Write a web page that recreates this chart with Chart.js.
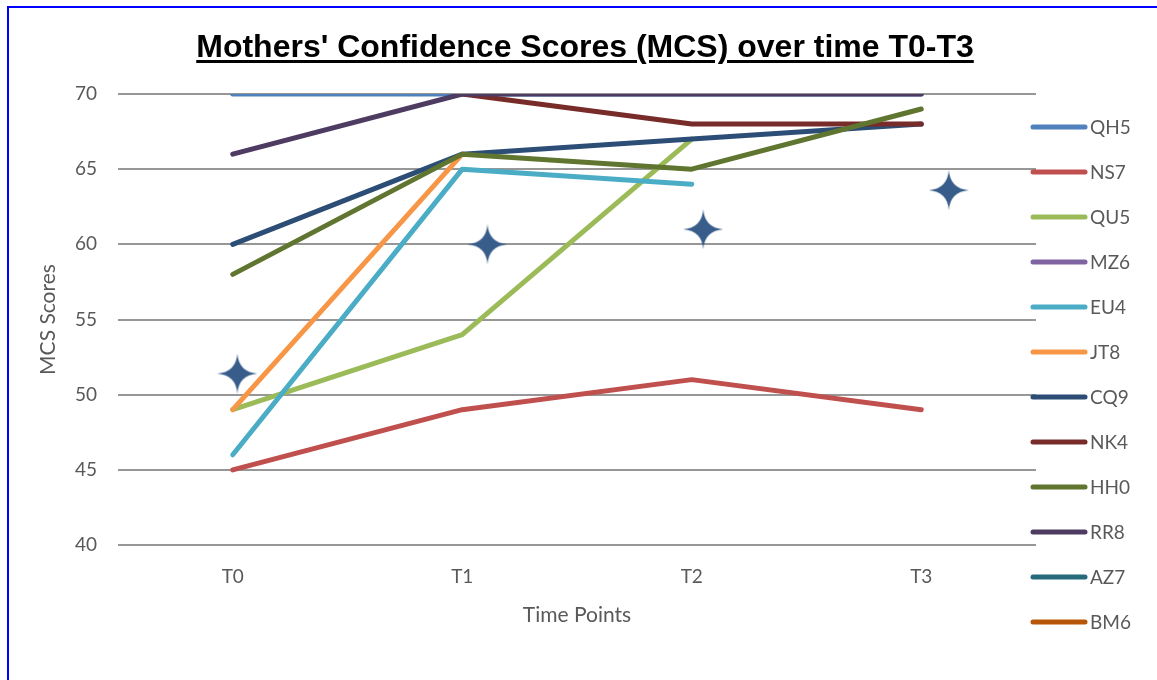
<!DOCTYPE html>
<html>
<head>
<meta charset="utf-8">
<script src="https://cdn.jsdelivr.net/npm/chart.js@4.4.1/dist/chart.umd.min.js"></script>
<style>
  html, body { margin: 0; padding: 0; background: #fff; overflow: hidden; }
  #frame { position: absolute; left: 7px; top: 6px; width: 1200px; height: 720px; border: 2px solid #0000ff; }
  #title {
    position: absolute; left: 0; top: 27px; width: 1170px; text-align: center;
    font: bold 32px 'Liberation Sans', Arial, sans-serif; line-height: 38px; color: #000;
    text-decoration: underline; text-decoration-thickness: 3px; text-underline-offset: 3px;
  }
  #chart { position: absolute; left: 0; top: 0; }
</style>
</head>
<body>
<div id="frame"></div>
<canvas id="chart" width="1157" height="680"></canvas>
<div id="title">Mothers' Confidence Scores (MCS) over time T0-T3</div>
<script>
// Données
const timePoints = ['T0', 'T1', 'T2', 'T3'];
const yTicks = [40, 45, 50, 55, 60, 65, 70];

const qh5 = [70, 70, 70, 70];
const ns7 = [45, 49, 51, 49];
const qu5 = [49, 54, 67, null];
const mz6 = [null, null, null, null];
const eu4 = [46, 65, 64, null];
const jt8 = [49, 66, null, null];
const cq9 = [60, 66, 67, 68];
const nk4 = [null, 70, 68, 68];
const hh0 = [58, 66, 65, 69];
const rr8 = [66, 70, 70, 70];
const az7 = [null, null, null, null];
const bm6 = [null, null, null, null];

// étoiles (moyennes), position x un peu décalée par rapport aux catégories
const starX = [0.02, 1.11, 2.05, 3.12];
const starY = [51.4, 60, 61, 63.6];

const seriesNames = ['QH5', 'NS7', 'QU5', 'MZ6', 'EU4', 'JT8', 'CQ9', 'NK4', 'HH0', 'RR8', 'AZ7', 'BM6'];
const seriesData = [qh5, ns7, qu5, mz6, eu4, jt8, cq9, nk4, hh0, rr8, az7, bm6];
const seriesColors = ['#4F81BD', '#C0504D', '#9BBB59', '#8064A2', '#4BACC6', '#F79646',
                      '#2C4D75', '#772C2A', '#5F7530', '#4D3B62', '#276A7C', '#B65708'];

const textColor = '#595959';
const baseFont = "Lato, 'Open Sans', sans-serif";

// étoile à 4 branches
function makeStar(size, color) {
    const c = document.createElement('canvas');
    c.width = size; c.height = size;
    const g = c.getContext('2d');
    const m = size / 2, k = 1.5;
    g.fillStyle = color;
    g.beginPath();
    g.moveTo(m, 0);
    g.quadraticCurveTo(m + k, m - k, size, m);
    g.quadraticCurveTo(m + k, m + k, m, size);
    g.quadraticCurveTo(m - k, m + k, 0, m);
    g.quadraticCurveTo(m - k, m - k, m, 0);
    g.fill();
    return c;
}

const datasets = seriesNames.map((name, i) => ({
    label: name,
    data: seriesData[i],
    borderColor: seriesColors[i],
    backgroundColor: seriesColors[i],
    borderWidth: 5,
    borderCapStyle: 'round',
    borderJoinStyle: 'round',
    pointRadius: 0,
    tension: 0,
    order: seriesNames.length - i
}));

datasets.push({
    type: 'scatter',
    label: '',
    data: starX.map((x, i) => ({ x: x, y: starY[i] })),
    xAxisID: 'x2',
    pointStyle: makeStar(40, '#385D8A'),
    pointRadius: 20,
    showLine: false,
    order: 0
});

// légende dessinée à droite
const sideLegend = {
    id: 'sideLegend',
    afterDraw(chart) {
        const ctx = chart.ctx;
        ctx.save();
        ctx.font = '19px ' + baseFont;
        ctx.textBaseline = 'middle';
        ctx.lineCap = 'round';
        ctx.lineWidth = 5;
        seriesNames.forEach((name, i) => {
            const y = 127 + i * 45;
            ctx.strokeStyle = seriesColors[i];
            ctx.beginPath();
            ctx.moveTo(1033, y);
            ctx.lineTo(1085, y);
            ctx.stroke();
            ctx.fillStyle = textColor;
            ctx.fillText(name, 1090, y + 1);
        });
        ctx.restore();
    }
};

const ctx = document.getElementById('chart').getContext('2d');
new Chart(ctx, {
    type: 'line',
    data: { labels: timePoints, datasets: datasets },
    options: {
        responsive: false,
        animation: false,
        layout: { padding: { left: 0, right: 121, top: 94, bottom: 52 } },
        plugins: {
            legend: { display: false },
            title: { display: false },
            tooltip: { enabled: false }
        },
        scales: {
            x: {
                type: 'category',
                offset: true,
                grid: { display: false, drawTicks: false },
                border: { display: false },
                afterFit: scale => { scale.height = 83; },
                ticks: { color: textColor, font: { family: baseFont, size: 19 }, padding: 20 },
                title: {
                    display: true, text: 'Time Points', color: textColor,
                    font: { family: baseFont, size: 21 }, padding: { top: 0, bottom: 0 }
                }
            },
            x2: { type: 'linear', display: false, min: -0.5, max: 3.5 },
            y: {
                min: yTicks[0],
                max: yTicks[yTicks.length - 1],
                afterBuildTicks: scale => { scale.ticks = yTicks.map(v => ({ value: v })); },
                afterFit: scale => { scale.width = 118; },
                grid: { color: '#979797', lineWidth: 2, drawTicks: false },
                border: { display: false },
                ticks: { color: textColor, font: { family: baseFont, size: 19 }, padding: 21 },
                title: {
                    display: true, text: 'MCS Scores', color: textColor,
                    font: { family: baseFont, size: 21 }, padding: { top: 36, bottom: 0 }
                }
            }
        }
    },
    plugins: [sideLegend]
});
</script>
</body>
</html>
